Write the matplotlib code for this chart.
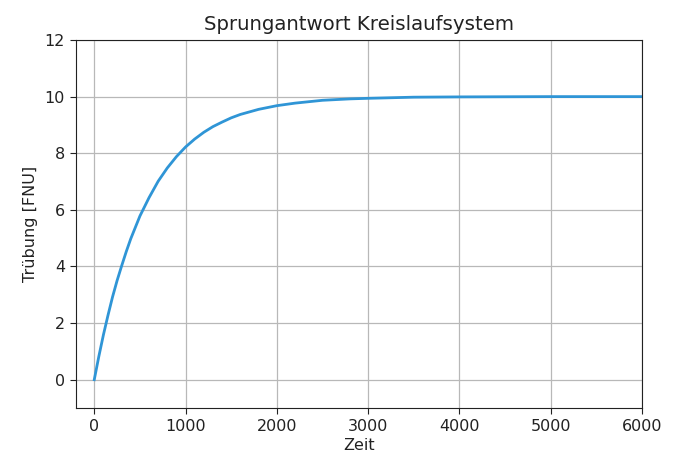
import matplotlib
matplotlib.use("Agg")
import matplotlib.pyplot as plt

zeit = [0, 50, 100, 150, 200, 250, 300, 350, 400, 500, 600, 700, 800, 900, 1000, 1100, 1200,
        1300, 1400, 1500, 1600, 1800, 2000, 2200, 2500, 2800, 3000, 3500, 4000, 5000, 6000]
truebung = [0.0, 0.82, 1.58, 2.27, 2.92, 3.50, 4.02, 4.52, 4.98, 5.78, 6.43, 7.01, 7.48, 7.88,
            8.22, 8.50, 8.74, 8.94, 9.10, 9.25, 9.37, 9.55, 9.68, 9.77, 9.87, 9.92, 9.94,
            9.98, 9.99, 10.0, 10.0]

fig = plt.figure(figsize=(6.8, 4.59), dpi=100)
ax = fig.add_axes([76/680, 1-408/459, (642-76)/680, (408-40)/459])
ax.plot(zeit, truebung, color="#2f95d6", linewidth=2.0)
ax.set_xlim(-200, 6000)
ax.set_ylim(-1, 12)
ax.set_xticks([0, 1000, 2000, 3000, 4000, 5000, 6000])
ax.set_yticks([0, 2, 4, 6, 8, 10, 12])
ax.tick_params(labelsize=11.5, length=4.5, color="#222222", labelcolor="#222222")
ax.grid(True, color="#b8b8b8", linewidth=0.9)
for s in ax.spines.values():
    s.set_color("#222222")
ax.set_title("Sprungantwort Kreislaufsystem", fontsize=14.2, color="#222222", pad=7)
ax.set_xlabel("Zeit", fontsize=11.5, color="#222222", labelpad=3)
ax.set_ylabel("Trübung [FNU]", fontsize=11.5, color="#222222", labelpad=5)
fig.savefig("out.png", dpi=100)
